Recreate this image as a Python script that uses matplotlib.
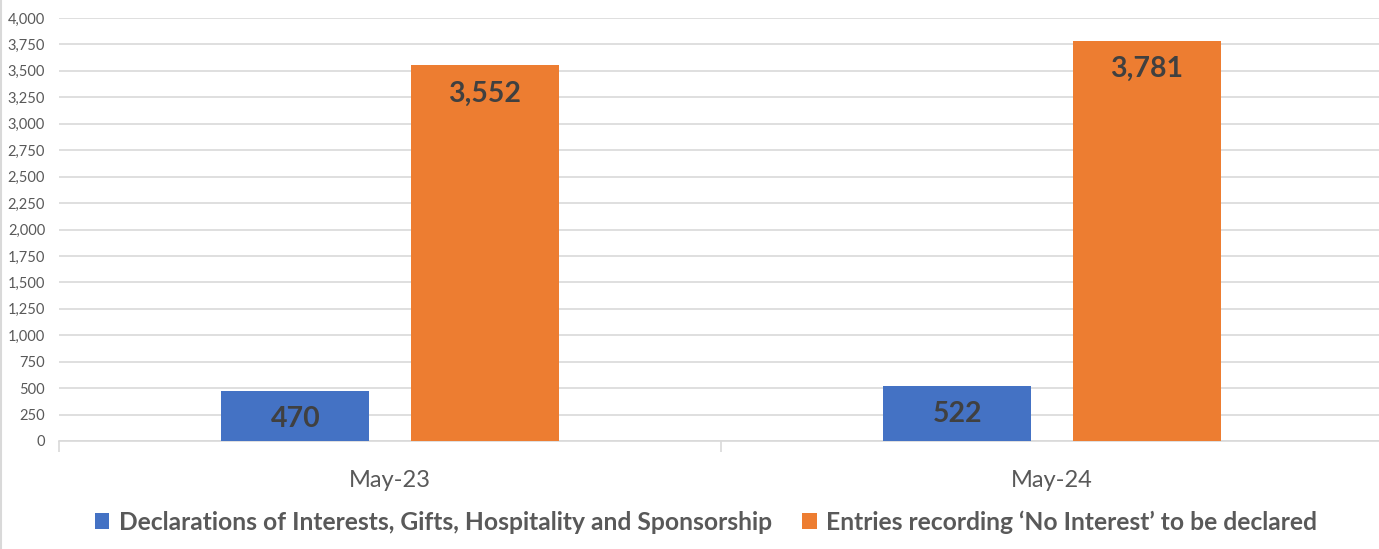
import matplotlib.pyplot as plt
import numpy as np
from matplotlib.ticker import FuncFormatter, MultipleLocator
from matplotlib.lines import Line2D

# register snapshots
periods = ["May-23", "May-24"]
declarations = [470, 522]
no_interest = [3552, 3781]
series_names = [
    "Declarations of Interests, Gifts, Hospitality and Sponsorship",
    "Entries recording \u2018No Interest\u2019 to be declared",
]

BLUE = "#4472C4"
ORANGE = "#ED7D31"
TEXT = "#595959"
LABEL = "#404040"
GRID = "#D9D9D9"

plt.rcParams["font.family"] = ["Lato", "DejaVu Sans"]

fig = plt.figure(figsize=(13.79, 5.49), dpi=100)
ax = fig.add_axes([59 / 1379, 1 - 441 / 549, 1324 / 1379, 423 / 549])

x = np.arange(len(periods))
width = 0.2235
offset = 0.143

bars_a = ax.bar(x - offset, declarations, width, color=BLUE, label=series_names[0], zorder=3)
bars_b = ax.bar(x + offset, no_interest, width, color=ORANGE, label=series_names[1], zorder=3)

# value labels sit just inside the top of each bar
for bars, vals in ((bars_a, declarations), (bars_b, no_interest)):
    for b, v in zip(bars, vals):
        ax.annotate(f"{v:,}", (b.get_x() + b.get_width() / 2, v),
                    xytext=(0, -28), textcoords="offset pixels",
                    ha="center", va="center", fontsize=20.5, fontweight="bold",
                    color=LABEL, zorder=4)

ax.set_xlim(-0.5, 1.5)
ax.set_ylim(0, 4000)
ax.yaxis.set_major_locator(MultipleLocator(250))
ax.yaxis.set_major_formatter(FuncFormatter(lambda v, _: f"{int(v):,}"))
ax.grid(axis="y", color=GRID, linewidth=1.2, zorder=0)
ax.set_axisbelow(True)

for side in ("top", "right", "left"):
    ax.spines[side].set_visible(False)
ax.spines["bottom"].set_color(GRID)
ax.spines["bottom"].set_linewidth(1.2)

ax.tick_params(axis="y", length=0, labelsize=10.5, labelcolor=TEXT, pad=10)
ax.set_xticks(x)
ax.set_xticklabels(periods)
ax.tick_params(axis="x", length=0, labelsize=17, labelcolor=TEXT, pad=21)

# category separators on the baseline
ax.set_xticks([-0.5, 0.5, 1.5], minor=True)
ax.tick_params(axis="x", which="minor", length=8, color=GRID, width=1.2)

leg = fig.legend(handles=[bars_a, bars_b], labels=series_names, loc="center",
                 bbox_to_anchor=(0.512, 1 - 522 / 549), ncol=2, frameon=False,
                 fontsize=17.7, handlelength=0.6, handleheight=0.6,
                 handletextpad=0.4, columnspacing=1.2)
for t in leg.get_texts():
    t.set_color(TEXT)
    t.set_fontweight("bold")

# thin chart border on the left edge
fig.add_artist(Line2D([0.001, 0.001], [0, 1], transform=fig.transFigure,
                      color=GRID, linewidth=1.5))

fig.savefig("out.png", dpi=100, facecolor="white")
